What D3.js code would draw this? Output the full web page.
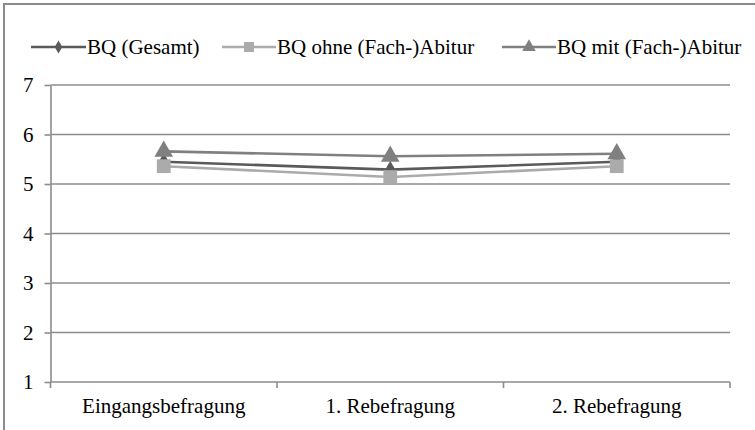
<!DOCTYPE html>
<html>
<head>
<meta charset="utf-8">
<script src="https://cdn.jsdelivr.net/npm/d3@7/dist/d3.min.js"></script>
<style>
  html, body { margin: 0; padding: 0; background: #fff; }
  svg { display: block; }
  text { font-family: "Liberation Serif", "Times New Roman", serif; fill: #000; }
</style>
</head>
<body>
<svg id="chart" width="755" height="430"></svg>
<script>
// Survey waves along the x axis
const categories = ["Eingangsbefragung", "1. Rebefragung", "2. Rebefragung"];

// Mean scores per group and wave
const gesamt = [5.45, 5.29, 5.45];
const ohneAbitur = [5.36, 5.14, 5.36];
const mitAbitur = [5.66, 5.56, 5.61];

const seriesNames = ["BQ (Gesamt)", "BQ ohne (Fach-)Abitur", "BQ mit (Fach-)Abitur"];
const yTicks = [1, 2, 3, 4, 5, 6, 7];

const series = [
  { name: seriesNames[0], values: gesamt, color: "#5a5a5a", marker: "diamond" },
  { name: seriesNames[1], values: ohneAbitur, color: "#ababab", marker: "square" },
  { name: seriesNames[2], values: mitAbitur, color: "#808080", marker: "triangle" }
];

const svg = d3.select("#chart");
const gridColor = "#8c8c8c";
const fontSize = 21;

// outer frame
svg.append("rect")
  .attr("x", 4).attr("y", 4)
  .attr("width", 800).attr("height", 500)
  .attr("fill", "none")
  .attr("stroke", gridColor)
  .attr("stroke-width", 2);

const plot = { left: 50.5, right: 730, top: 85, bottom: 382 };

const x = d3.scaleBand().domain(categories).range([plot.left, plot.right]);
const y = d3.scaleLinear().domain([1, 7]).range([plot.bottom, plot.top]);

// horizontal gridlines
svg.append("g")
  .selectAll("line")
  .data(yTicks.filter(d => d > 1))
  .join("line")
  .attr("x1", plot.left).attr("x2", plot.right)
  .attr("y1", d => y(d)).attr("y2", d => y(d))
  .attr("stroke", gridColor).attr("stroke-width", 1.6);

// y axis
const yAxis = svg.append("g")
  .attr("transform", `translate(${plot.left},0)`)
  .call(d3.axisLeft(y).tickValues(yTicks).tickFormat(d3.format("d"))
    .tickSize(6).tickPadding(11).tickSizeOuter(0));
yAxis.select(".domain").attr("stroke", gridColor).attr("stroke-width", 1.6);
yAxis.selectAll(".tick line").attr("stroke", gridColor).attr("stroke-width", 1.6);
yAxis.selectAll("text")
  .attr("font-size", fontSize)
  .attr("font-family", null)
  .style("font-family", "Liberation Serif, serif")
  .attr("fill", "#000");

// x axis with ticks at category boundaries
const xAxisG = svg.append("g").attr("transform", `translate(0,${plot.bottom})`);
xAxisG.append("line")
  .attr("x1", plot.left).attr("x2", plot.right)
  .attr("stroke", gridColor).attr("stroke-width", 1.6);
const boundaries = categories.map(c => x(c)).concat([x(categories[categories.length - 1]) + x.bandwidth()]);
xAxisG.selectAll("line.tk")
  .data(boundaries)
  .join("line")
  .attr("class", "tk")
  .attr("x1", d => d).attr("x2", d => d)
  .attr("y1", 0).attr("y2", 6)
  .attr("stroke", gridColor).attr("stroke-width", 1.6);
xAxisG.selectAll("text")
  .data(categories)
  .join("text")
  .attr("x", d => x(d) + x.bandwidth() / 2)
  .attr("y", 31)
  .attr("text-anchor", "middle")
  .attr("font-size", fontSize)
  .text(d => d);

// marker shapes for the plot and the (smaller) legend
const markerPath = {
  diamond: d3.symbol(d3.symbolDiamond, 90)(),
  square: d3.symbol(d3.symbolSquare, 190)(),
  triangle: d3.symbol(d3.symbolTriangle, 150)()
};
const legendMarkerPath = {
  diamond: d3.symbol(d3.symbolDiamond, 50)(),
  square: d3.symbol(d3.symbolSquare, 100)(),
  triangle: d3.symbol(d3.symbolTriangle, 80)()
};

const line = d3.line()
  .x((d, i) => x(categories[i]) + x.bandwidth() / 2)
  .y(d => y(d));

// lines first, then markers on top
series.forEach(s => {
  svg.append("path")
    .datum(s.values)
    .attr("fill", "none")
    .attr("stroke", s.color)
    .attr("stroke-width", 2.6)
    .attr("d", line);
});
series.forEach(s => {
  svg.append("g")
    .selectAll("path")
    .data(s.values)
    .join("path")
    .attr("d", markerPath[s.marker])
    .attr("transform", (d, i) => `translate(${x(categories[i]) + x.bandwidth() / 2},${y(d)})`)
    .attr("fill", s.color);
});

// legend
const legendItems = [
  { s: series[0], x0: 31, x1: 86 },
  { s: series[1], x0: 222, x1: 276 },
  { s: series[2], x0: 502, x1: 556 }
];
const legendY = 47;
const lg = svg.append("g");
legendItems.forEach(it => {
  lg.append("line")
    .attr("x1", it.x0).attr("x2", it.x1)
    .attr("y1", legendY).attr("y2", legendY)
    .attr("stroke", it.s.color).attr("stroke-width", 2.6);
  lg.append("path")
    .attr("d", legendMarkerPath[it.s.marker])
    .attr("transform", `translate(${(it.x0 + it.x1) / 2},${legendY})`)
    .attr("fill", it.s.color);
  lg.append("text")
    .attr("x", it.x1 + 1)
    .attr("y", legendY + 7)
    .attr("font-size", fontSize)
    .text(it.s.name);
});
</script>
</body>
</html>
